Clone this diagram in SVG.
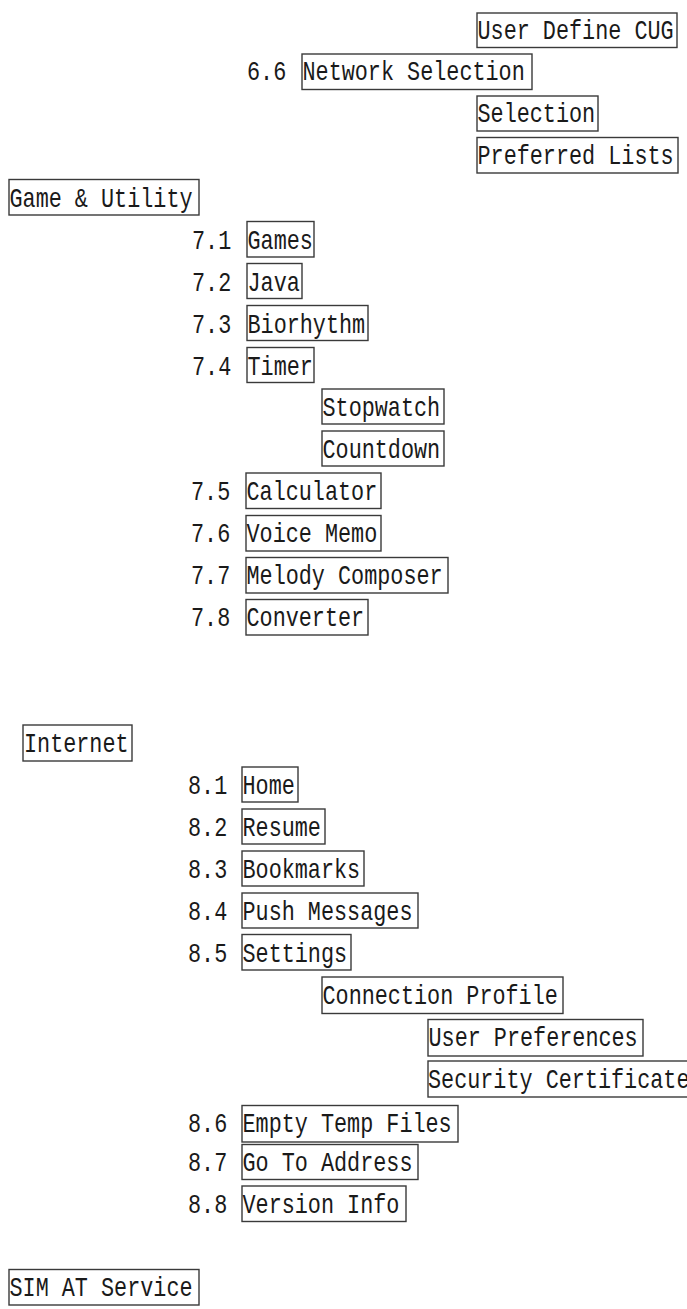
<svg xmlns="http://www.w3.org/2000/svg" width="687" height="1309" viewBox="0 0 687 1309">
<style>
.b{fill:none;stroke:#3a3a3a;stroke-width:1.4}
.t{font-family:"Liberation Mono","Courier New",monospace;font-size:21.8px;fill:#1a1a1a}
</style>
<rect width="687" height="1309" fill="#ffffff"/>
<g id="connectors"/>
<g id="n-user-define-cug"><rect class="b" x="477" y="13" width="200" height="34.5"/><text class="t" transform="translate(477.5 39) scale(1 1.31)">User Define CUG</text></g>
<g id="n-6-6"><text class="t" transform="translate(247 80) scale(1 1.31)">6.6</text><rect class="b" x="302" y="54" width="230" height="35.5"/><text class="t" transform="translate(302.5 80) scale(1 1.31)">Network Selection</text></g>
<g id="n-selection"><rect class="b" x="477" y="96" width="121" height="35"/><text class="t" transform="translate(477.5 122) scale(1 1.31)">Selection</text></g>
<g id="n-preferred-lists"><rect class="b" x="477" y="137.5" width="201" height="35.5"/><text class="t" transform="translate(477.5 164) scale(1 1.31)">Preferred Lists</text></g>
<g id="n-game-utility"><rect class="b" x="9" y="179.5" width="190" height="35.5"/><text class="t" transform="translate(9.5 207) scale(1 1.31)">Game &amp; Utility</text></g>
<g id="n-7-1"><text class="t" transform="translate(192 249) scale(1 1.31)">7.1</text><rect class="b" x="247" y="221.5" width="67" height="35.5"/><text class="t" transform="translate(247.5 249) scale(1 1.31)">Games</text></g>
<g id="n-7-2"><text class="t" transform="translate(192 291) scale(1 1.31)">7.2</text><rect class="b" x="247" y="263.5" width="55" height="35"/><text class="t" transform="translate(247.5 291) scale(1 1.31)">Java</text></g>
<g id="n-7-3"><text class="t" transform="translate(192 333) scale(1 1.31)">7.3</text><rect class="b" x="247" y="305.5" width="121" height="35"/><text class="t" transform="translate(247.5 333) scale(1 1.31)">Biorhythm</text></g>
<g id="n-7-4"><text class="t" transform="translate(192 375) scale(1 1.31)">7.4</text><rect class="b" x="247" y="347.5" width="67" height="35"/><text class="t" transform="translate(247.5 375) scale(1 1.31)">Timer</text></g>
<g id="n-stopwatch"><rect class="b" x="322" y="389" width="122" height="35"/><text class="t" transform="translate(322.5 416) scale(1 1.31)">Stopwatch</text></g>
<g id="n-countdown"><rect class="b" x="322" y="431" width="122" height="35"/><text class="t" transform="translate(322.5 458) scale(1 1.31)">Countdown</text></g>
<g id="n-7-5"><text class="t" transform="translate(191 500) scale(1 1.31)">7.5</text><rect class="b" x="246" y="473" width="135" height="35.5"/><text class="t" transform="translate(246.5 500) scale(1 1.31)">Calculator</text></g>
<g id="n-7-6"><text class="t" transform="translate(191 542) scale(1 1.31)">7.6</text><rect class="b" x="246" y="515.5" width="135" height="35.5"/><text class="t" transform="translate(246.5 542) scale(1 1.31)">Voice Memo</text></g>
<g id="n-7-7"><text class="t" transform="translate(191 584) scale(1 1.31)">7.7</text><rect class="b" x="246" y="557.5" width="202" height="35.5"/><text class="t" transform="translate(246.5 584) scale(1 1.31)">Melody Composer</text></g>
<g id="n-7-8"><text class="t" transform="translate(191 626) scale(1 1.31)">7.8</text><rect class="b" x="246" y="599.5" width="122" height="35.5"/><text class="t" transform="translate(246.5 626) scale(1 1.31)">Converter</text></g>
<g id="n-internet"><rect class="b" x="23" y="725" width="109" height="36"/><text class="t" transform="translate(24 752) scale(1 1.31)">Internet</text></g>
<g id="n-8-1"><text class="t" transform="translate(188 794) scale(1 1.31)">8.1</text><rect class="b" x="242" y="767" width="56" height="35"/><text class="t" transform="translate(242.5 794) scale(1 1.31)">Home</text></g>
<g id="n-8-2"><text class="t" transform="translate(188 836) scale(1 1.31)">8.2</text><rect class="b" x="242" y="809" width="83" height="35"/><text class="t" transform="translate(242.5 836) scale(1 1.31)">Resume</text></g>
<g id="n-8-3"><text class="t" transform="translate(188 878) scale(1 1.31)">8.3</text><rect class="b" x="242" y="851" width="122" height="35"/><text class="t" transform="translate(242.5 878) scale(1 1.31)">Bookmarks</text></g>
<g id="n-8-4"><text class="t" transform="translate(188 920) scale(1 1.31)">8.4</text><rect class="b" x="242" y="893" width="176" height="35"/><text class="t" transform="translate(242.5 920) scale(1 1.31)">Push Messages</text></g>
<g id="n-8-5"><text class="t" transform="translate(188 962) scale(1 1.31)">8.5</text><rect class="b" x="242" y="934.5" width="109" height="35.5"/><text class="t" transform="translate(242.5 962) scale(1 1.31)">Settings</text></g>
<g id="n-connection-profile"><rect class="b" x="322" y="977" width="241" height="36.5"/><text class="t" transform="translate(322.5 1004) scale(1 1.31)">Connection Profile</text></g>
<g id="n-user-preferences"><rect class="b" x="428" y="1019.5" width="215" height="36.5"/><text class="t" transform="translate(428.5 1046) scale(1 1.31)">User Preferences</text></g>
<g id="n-security-certificate"><rect class="b" x="428" y="1061" width="270" height="36"/><text class="t" transform="translate(428 1088) scale(1 1.31)">Security Certificate</text></g>
<g id="n-8-6"><text class="t" transform="translate(188 1132) scale(1 1.31)">8.6</text><rect class="b" x="242" y="1105.5" width="216" height="36.5"/><text class="t" transform="translate(242.5 1132) scale(1 1.31)">Empty Temp Files</text></g>
<g id="n-8-7"><text class="t" transform="translate(188 1171) scale(1 1.31)">8.7</text><rect class="b" x="242" y="1144.5" width="176" height="35"/><text class="t" transform="translate(242.5 1171) scale(1 1.31)">Go To Address</text></g>
<g id="n-8-8"><text class="t" transform="translate(188 1213) scale(1 1.31)">8.8</text><rect class="b" x="242" y="1186" width="164" height="35.5"/><text class="t" transform="translate(242.5 1213) scale(1 1.31)">Version Info</text></g>
<g id="n-sim-at-service"><rect class="b" x="9" y="1269.5" width="190" height="35.5"/><text class="t" transform="translate(9.5 1296) scale(1 1.31)">SIM AT Service</text></g>
</svg>
